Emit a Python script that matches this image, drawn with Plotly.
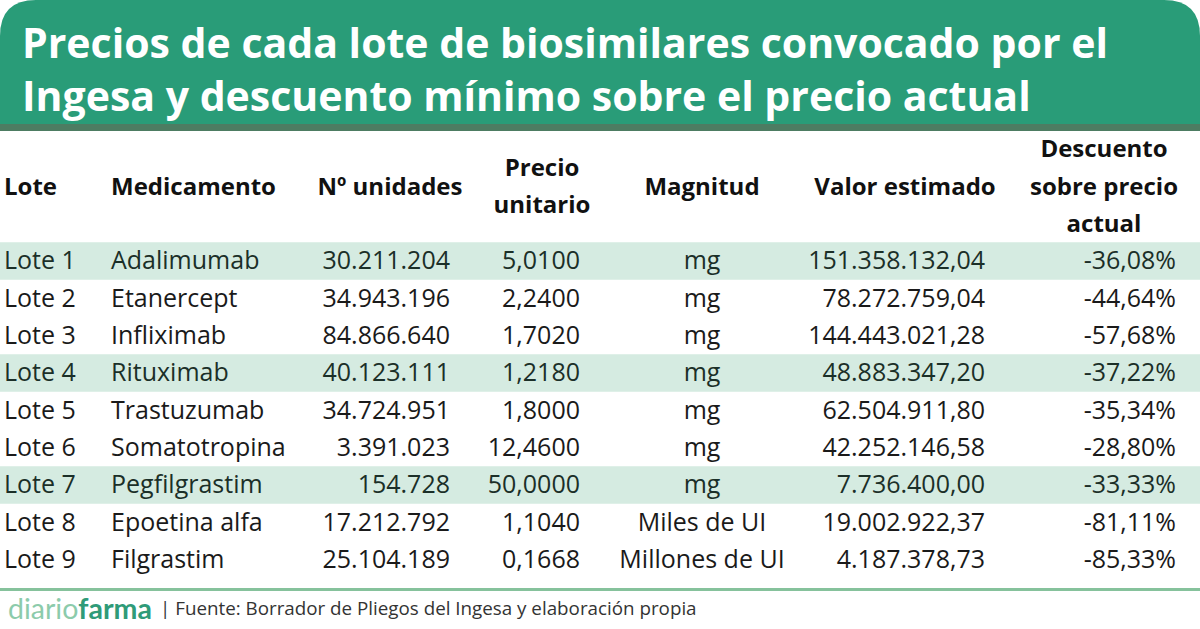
import plotly.graph_objects as go

W, H = 1200, 629

# ---------------- data ----------------
lotes = ["Lote 1", "Lote 2", "Lote 3", "Lote 4", "Lote 5", "Lote 6", "Lote 7", "Lote 8", "Lote 9"]
medicamentos = ["Adalimumab", "Etanercept", "Infliximab", "Rituximab", "Trastuzumab",
                "Somatotropina", "Pegfilgrastim", "Epoetina alfa", "Filgrastim"]
unidades = [30211204, 34943196, 84866640, 40123111, 34724951, 3391023, 154728, 17212792, 25104189]
precio_unitario = [5.0100, 2.2400, 1.7020, 1.2180, 1.8000, 12.4600, 50.0000, 1.1040, 0.1668]
magnitud = ["mg", "mg", "mg", "mg", "mg", "mg", "mg", "Miles de UI", "Millones de UI"]
valor_estimado = [151358132.04, 78272759.04, 144443021.28, 48883347.20, 62504911.80,
                  42252146.58, 7736400.00, 19002922.37, 4187378.73]
descuento = [-36.08, -44.64, -57.68, -37.22, -35.34, -28.80, -33.33, -81.11, -85.33]
filas_resaltadas = [0, 3, 6]

title_lines = ["Precios de cada lote de biosimilares convocado por el",
               "Ingesa y descuento mínimo sobre el precio actual"]
fuente = "Fuente: Borrador de Pliegos del Ingesa y elaboración propia"


def es(v, dec):
    s = f"{v:,.{dec}f}"
    return s.replace(",", "X").replace(".", ",").replace("X", ".")


# ---------------- style ----------------
GREEN = "#299c78"
DARK_STRIPE = "#4d7c62"
BAND = "#d5ebe1"
BODY_FONT = "Open Sans"
TITLE_FONT = "Open Sans"
FS = 25
TXT = "#1a1a1a"
TXT_BAND = "#1b2f28"

# row axis: row i centre at pixel ROW0 + PITCH*i
ROW0, PITCH = 261.0, 37.33
y_top = (0 - ROW0) / PITCH
y_bot = (H - ROW0) / PITCH
TEXT_SHIFT = 0.06  # small downward nudge of glyphs inside each row


def ppx(x):
    return x / W


def ppy(y):
    return 1 - y / H


fig = go.Figure()

rows = [i + TEXT_SHIFT for i in range(len(lotes))]
row_colors = [TXT_BAND if i in filas_resaltadas else TXT for i in range(len(lotes))]
columns = [
    (lotes, 4, "middle right"),
    (medicamentos, 111, "middle right"),
    ([es(v, 0) for v in unidades], 450, "middle left"),
    ([es(v, 4) for v in precio_unitario], 580, "middle left"),
    (magnitud, 702, "middle center"),
    ([es(v, 2) for v in valor_estimado], 985, "middle left"),
    ([es(v, 2) + "%" for v in descuento], 1176, "middle left"),
]
for texts, xa, pos in columns:
    fig.add_trace(go.Scatter(
        x=[xa] * len(texts), y=rows, text=texts, mode="text",
        textposition=pos, cliponaxis=False, hoverinfo="skip", showlegend=False,
        textfont=dict(family=BODY_FONT, size=FS, color=row_colors),
    ))

headers = [
    (["Lote"], [-2], 4, "middle right"),
    (["Medicamento"], [-2], 111, "middle right"),
    (["Nº unidades"], [-2], 390, "middle center"),
    (["Precio", "unitario"], [-2.5, -1.5], 542, "middle center"),
    (["Magnitud"], [-2], 702, "middle center"),
    (["Valor estimado"], [-2], 905, "middle center"),
    (["Descuento", "sobre precio", "actual"], [-3, -2, -1], 1104, "middle center"),
]
for texts, ys, xa, pos in headers:
    fig.add_trace(go.Scatter(
        x=[xa] * len(texts), y=[v + TEXT_SHIFT for v in ys],
        text=[f"<b>{t}</b>" for t in texts], mode="text",
        textposition=pos, cliponaxis=False, hoverinfo="skip", showlegend=False,
        textfont=dict(family=BODY_FONT, size=24, color="#111111"),
    ))

shapes = []
for i in filas_resaltadas:
    shapes.append(dict(type="rect", xref="paper", yref="y", x0=0, x1=1,
                       y0=i - 0.5, y1=i + 0.5, fillcolor=BAND, line_width=0, layer="below"))

r = 36
hb = 124
pts = f"M {ppx(0)},{ppy(hb)} L {ppx(0)},{ppy(r)} Q {ppx(0)},{ppy(0)} {ppx(r)},{ppy(0)} " \
      f"L {ppx(W - r)},{ppy(0)} Q {ppx(W)},{ppy(0)} {ppx(W)},{ppy(r)} L {ppx(W)},{ppy(hb)} Z"
shapes.append(dict(type="path", xref="paper", yref="paper", path=pts,
                   fillcolor=GREEN, line_width=0, layer="below"))
shapes.append(dict(type="rect", xref="paper", yref="paper", x0=0, x1=1,
                   y0=ppy(131), y1=ppy(hb), fillcolor=DARK_STRIPE, line_width=0, layer="below"))
shapes.append(dict(type="rect", xref="paper", yref="paper", x0=0, x1=1,
                   y0=ppy(591), y1=ppy(588), fillcolor="#86c29c", line_width=0, layer="below"))

annotations = []
for line, yc in zip(title_lines, [42, 95]):
    annotations.append(dict(xref="paper", yref="paper", x=ppx(20), y=ppy(yc),
                            xanchor="left", yanchor="middle", showarrow=False,
                            text=f"<b>{line}</b>",
                            font=dict(family=TITLE_FONT, size=41, color="white")))
annotations.append(dict(xref="paper", yref="paper", x=ppx(6), y=ppy(608),
                        xanchor="left", yanchor="middle", showarrow=False,
                        text="<span style='color:#8ccbab'>diario</span><b><span style='color:#2f9b78'>farma</span></b>",
                        font=dict(family="Lato", size=28.5)))
annotations.append(dict(xref="paper", yref="paper", x=ppx(158), y=ppy(608),
                        xanchor="left", yanchor="middle", showarrow=False,
                        text="| " + fuente,
                        font=dict(family=BODY_FONT, size=18.8, color="#333333")))

fig.update_layout(
    width=W, height=H, margin=dict(l=0, r=0, t=0, b=0),
    paper_bgcolor="white", plot_bgcolor="white",
    xaxis=dict(range=[0, W], visible=False, fixedrange=True),
    yaxis=dict(range=[y_bot, y_top], visible=False, fixedrange=True),
    shapes=shapes, annotations=annotations, showlegend=False,
)

fig.write_html(
    "out.html",
    config={"displayModeBar": False},
    post_script="document.body.style.margin='0';document.body.style.padding='0';"
                "document.documentElement.style.overflow='hidden';",
)
